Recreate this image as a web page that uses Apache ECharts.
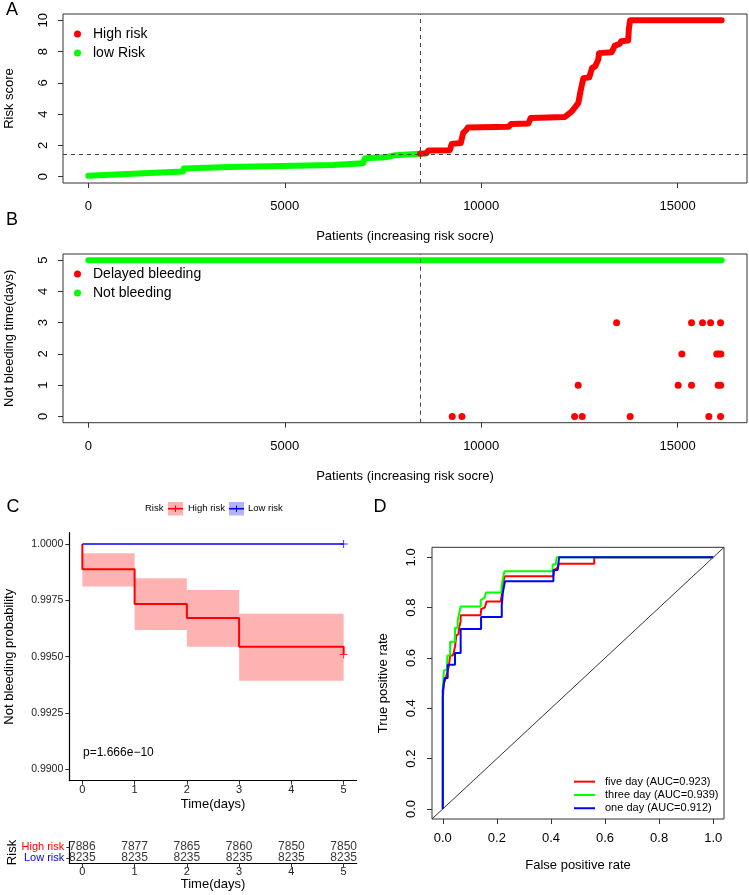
<!DOCTYPE html>
<html>
<head>
<meta charset="utf-8">
<script src="https://cdn.jsdelivr.net/npm/echarts@6/dist/echarts.min.js"></script>
<style>
  html, body { margin: 0; padding: 0; background: #fff; }
  #page { position: relative; width: 749px; height: 895px; }
  .panel { position: absolute; left: 0; top: 0; width: 749px; height: 895px; }
</style>
</head>
<body>
<div id="page">
  <div class="panel" id="panelA"></div>
  <div class="panel" id="panelB"></div>
  <div class="panel" id="panelC"></div>
  <div class="panel" id="panelD"></div>
</div>
<script>
// ---- panel A: risk score by patient rank (step vertices)
const lowRiskIdx = [0, 2410, 2430, 3600, 3640, 6230, 6270, 6990, 7040, 7550, 7600, 7820, 7860, 8440];
const lowRiskScore = [0.06, 0.34, 0.53, 0.62, 0.72, 0.75, 0.83, 0.86, 1.18, 1.24, 1.34, 1.38, 1.45, 1.47];
const highRiskIdx = [8440, 8600, 8660, 9200, 9250, 9480, 9540, 9620, 9660, 10700, 10760, 11200, 11260, 12130,
  12300, 12470, 12530, 12600, 12750, 12820, 12900, 12980, 13000, 13320, 13400, 13530, 13560, 13740, 13760, 13790, 16121];
const highRiskScore = [1.47, 1.5, 1.68, 1.7, 2.1, 2.15, 2.8, 3.0, 3.15, 3.2, 3.37, 3.4, 3.75, 3.82,
  4.16, 4.7, 5.5, 6.3, 6.35, 6.95, 7.05, 7.5, 7.9, 7.95, 8.38, 8.5, 8.66, 8.7, 9.5, 10, 10];
const riskCutIdx = 8440;
const riskCutScore = 1.46;
const patientTicks = [0, 5000, 10000, 15000];
const scoreTicks = [0, 2, 4, 6, 8, 10];

// ---- panel B: bleeding status
const notBleedIdx = [0, 16121];
const notBleedDays = [5, 5];
const bleedIdx = [13445, 15353, 15633, 15837, 16092, 15107, 15995, 16040, 16100,
  12468, 15013, 15353, 16030, 16095, 9262, 9509, 12377, 12570, 13791, 15794, 16092];
const bleedDays = [3, 3, 3, 3, 3, 2, 2, 2, 2, 1, 1, 1, 1, 1, 0, 0, 0, 0, 0, 0, 0];
const dayTicks = [0, 1, 2, 3, 4, 5];

// ---- panel C: Kaplan-Meier
const kmHighTimes = [0, 0, 1, 2, 3, 5];
const kmHigh = [1, 0.99888, 0.99734, 0.99672, 0.99544, 0.9951];
const kmLowTimes = [0, 5];
const kmLow = [1, 1];
const ciStart = [0, 1, 2, 3];
const ciEnd = [1, 2, 3, 5];
const ciLower = [0.99811, 0.99618, 0.99544, 0.99393];
const ciUpper = [0.99959, 0.99848, 0.99796, 0.99691];
const survTicks = [0.99, 0.9925, 0.995, 0.9975, 1];
const riskGroups = ['Low risk', 'High risk'];
const atRiskHigh = [7886, 7877, 7865, 7860, 7850, 7850];
const atRiskLow = [8235, 8235, 8235, 8235, 8235, 8235];
const pValueText = 'p=1.666e\u221210';

// ---- panel D: ROC
const rocFiveFpr = [0, 0, 0.004, 0.004, 0.011, 0.011, 0.018, 0.022, 0.027, 0.027, 0.037, 0.04, 0.045, 0.05, 0.058, 0.06, 0.066, 0.066,
  0.14, 0.142, 0.155, 0.162, 0.214, 0.218, 0.222, 0.23, 0.409, 0.412, 0.425, 0.43, 0.56, 0.56, 1];
const rocFiveTpr = [0, 0.44, 0.44, 0.5, 0.5, 0.52, 0.52, 0.565, 0.565, 0.61, 0.61, 0.62, 0.645, 0.69, 0.695, 0.72, 0.745, 0.77,
  0.77, 0.795, 0.8, 0.825, 0.825, 0.85, 0.9, 0.925, 0.925, 0.95, 0.96, 0.975, 0.975, 1, 1];
const rocThreeFpr = [0, 0, 0.004, 0.015, 0.017, 0.027, 0.027, 0.045, 0.045, 0.055, 0.055, 0.062, 0.066, 0.14, 0.14, 0.155, 0.16,
  0.216, 0.218, 0.222, 0.228, 0.406, 0.406, 0.418, 0.421, 1];
const rocThreeTpr = [0, 0.48, 0.55, 0.555, 0.61, 0.61, 0.665, 0.665, 0.72, 0.72, 0.75, 0.75, 0.805, 0.805, 0.83, 0.84, 0.86,
  0.86, 0.89, 0.915, 0.945, 0.945, 0.972, 0.972, 1, 1];
const rocOneFpr = [0, 0, 0.007, 0.018, 0.018, 0.045, 0.045, 0.066, 0.066, 0.1415, 0.1415, 0.218, 0.218, 0.222, 0.23, 0.409, 0.409, 0.425, 0.43, 1];
const rocOneTpr = [0, 0.47, 0.52, 0.52, 0.573, 0.573, 0.62, 0.62, 0.715, 0.715, 0.763, 0.763, 0.81, 0.86, 0.905, 0.905, 0.95, 0.95, 1, 1];
const rocNames = ['five day (AUC=0.923)', 'three day (AUC=0.939)', 'one day (AUC=0.912)'];
const diagLine = [-0.04, 1.04];
const rateTicks = [0, 0.2, 0.4, 0.6, 0.8, 1];

const FONT = '"Liberation Sans", Arial, sans-serif';
const zip = (xs, ys) => xs.map((x, i) => [x, ys[i]]);
const plain = v => String(v);

// R base-graphics style axis (box drawn by grid border)
function baseAxis(min, max, ticks, extra) {
  return Object.assign({
    type: 'value', min: min, max: max,
    axisLine: { show: false, onZero: false },
    axisTick: { show: true, length: 5, customValues: ticks, lineStyle: { color: '#333' } },
    splitLine: { show: false },
    nameLocation: 'middle',
    nameMoveOverlap: false,
    nameTextStyle: { fontSize: 13, color: '#000', fontFamily: FONT },
  }, extra);
}
// ggplot classic style axis
function ggAxis(gridIndex, extra) {
  return Object.assign({
    gridIndex: gridIndex,
    axisLine: { show: true, onZero: false, lineStyle: { color: '#000', width: 1.2 } },
    axisTick: { show: true, length: 4, lineStyle: { color: '#333' } },
    splitLine: { show: false },
    nameLocation: 'middle',
    nameMoveOverlap: false,
    nameTextStyle: { fontSize: 13, color: '#000', fontFamily: FONT },
  }, extra);
}
const boxGrid = { show: true, borderColor: '#333', borderWidth: 1, backgroundColor: 'transparent', outerBoundsMode: 'none' };
const dashed = { type: [4, 4], color: '#444', width: 1 };
const dotLegend = { orient: 'vertical', icon: 'circle', selectedMode: false, padding: 0,
  itemWidth: 7, itemHeight: 7, itemGap: 5, textStyle: { fontSize: 14, lineHeight: 14, color: '#000', padding: [0, 0, 0, 7] } };
function letter(t, x, y) {
  return { type: 'text', x: x, y: y, style: { text: t, fontSize: 18, fontFamily: FONT, fill: '#000',
    textAlign: 'center', textVerticalAlign: 'middle', align: 'center', verticalAlign: 'middle' } };
}
function smallText(t, x, y, size) {
  return { type: 'text', x: x, y: y, style: { text: t, fontSize: size, fontFamily: FONT, fill: '#000',
    textVerticalAlign: 'middle', verticalAlign: 'middle' } };
}
function makeChart(id, option) {
  const chart = echarts.init(document.getElementById(id), null, { width: 749, height: 895 });
  chart.setOption(Object.assign({ animation: false, textStyle: { fontFamily: FONT } }, option));
  return chart;
}

// ---- A
makeChart('panelA', {
  grid: Object.assign({ left: 63, top: 14, width: 684, height: 169 }, boxGrid),
  xAxis: baseAxis(-645, 16765, patientTicks, { name: 'Patients (increasing risk socre)', nameGap: 47,
    axisLabel: { customValues: patientTicks, margin: 17, fontSize: 13, color: '#000', formatter: plain } }),
  yAxis: baseAxis(-0.4, 10.4, scoreTicks, { name: 'Risk score', nameGap: 47, nameRotate: 90,
    axisLabel: { customValues: scoreTicks, rotate: 90, margin: 13, fontSize: 13, color: '#000', formatter: plain } }),
  legend: Object.assign({ data: ['High risk', 'low Risk'], left: 74, top: 27 }, dotLegend),
  series: [
    { name: 'low Risk', type: 'line', data: zip(lowRiskIdx, lowRiskScore), showSymbol: false,
      itemStyle: { color: '#00FF00' }, lineStyle: { color: '#00FF00', width: 6, cap: 'round', join: 'round' },
      markLine: { silent: true, symbol: ['none', 'none'], label: { show: false }, lineStyle: dashed,
        data: [{ xAxis: riskCutIdx }, { yAxis: riskCutScore }] } },
    { name: 'High risk', type: 'line', data: zip(highRiskIdx, highRiskScore), showSymbol: false,
      itemStyle: { color: '#FF0000' }, lineStyle: { color: '#FF0000', width: 6, cap: 'round', join: 'round' } },
  ],
  graphic: [letter('A', 12, 10)],
});

// ---- B
makeChart('panelB', {
  grid: Object.assign({ left: 63, top: 254, width: 684, height: 168.7 }, boxGrid),
  xAxis: baseAxis(-645, 16765, patientTicks, { name: 'Patients (increasing risk socre)', nameGap: 47,
    axisLabel: { customValues: patientTicks, margin: 17, fontSize: 13, color: '#000', formatter: plain } }),
  yAxis: baseAxis(-0.2, 5.2, dayTicks, { name: 'Not bleeding time(days)', nameGap: 47, nameRotate: 90,
    axisLabel: { customValues: dayTicks, rotate: 90, margin: 13, fontSize: 13, color: '#000', formatter: plain } }),
  legend: Object.assign({ data: ['Delayed bleeding', 'Not bleeding'], left: 74, top: 267 }, dotLegend),
  series: [
    { name: 'Not bleeding', type: 'line', data: zip(notBleedIdx, notBleedDays), showSymbol: false,
      itemStyle: { color: '#00FF00' }, lineStyle: { color: '#00FF00', width: 6, cap: 'round' },
      markLine: { silent: true, symbol: ['none', 'none'], label: { show: false }, lineStyle: dashed,
        data: [{ xAxis: riskCutIdx }] } },
    { name: 'Delayed bleeding', type: 'scatter', data: zip(bleedIdx, bleedDays),
      symbolSize: 7, itemStyle: { color: '#FF0000', opacity: 1 } },
  ],
  graphic: [letter('B', 12, 220)],
});

// ---- C (survival curve + number-at-risk table)
makeChart('panelC', {
  grid: [
    { left: 69.3, top: 532.7, width: 287.4, height: 248, outerBoundsMode: 'none' },
    { left: 69.3, top: 841.7, width: 287.4, height: 21.6, outerBoundsMode: 'none' },
  ],
  xAxis: [
    ggAxis(0, { type: 'value', min: -0.25, max: 5.25, name: 'Time(days)', nameGap: 17,
      axisTick: { show: true, length: 4, customValues: dayTicks, lineStyle: { color: '#333' } },
      axisLabel: { customValues: dayTicks, margin: 4, fontSize: 11, color: '#222' } }),
    ggAxis(1, { type: 'value', min: -0.25, max: 5.25, name: 'Time(days)', nameGap: 15,
      axisTick: { show: true, length: 4, customValues: dayTicks, lineStyle: { color: '#333' } },
      axisLabel: { customValues: dayTicks, margin: 3, fontSize: 11, color: '#222' } }),
  ],
  yAxis: [
    ggAxis(0, { type: 'value', min: 0.9895, max: 1.0005, name: 'Not bleeding probability', nameGap: 53, nameRotate: 90,
      axisTick: { show: true, length: 4, customValues: survTicks, lineStyle: { color: '#333' } },
      axisLabel: { customValues: survTicks, margin: 6, fontSize: 10.5, color: '#222', formatter: v => v.toFixed(4) } }),
    ggAxis(1, { type: 'category', data: riskGroups, name: 'Risk', nameGap: 50, nameRotate: 90,
      axisTick: { show: true, length: 3, alignWithLabel: true, lineStyle: { color: '#333' } },
      axisLabel: { interval: 0, hideOverlap: false, margin: 5, fontSize: 11,
        color: v => (v === 'High risk' ? '#FF0000' : '#0000FF') } }),
  ],
  series: [
    { name: 'ci', type: 'custom', xAxisIndex: 0, yAxisIndex: 0,
      data: ciStart.map((s, i) => [s, ciEnd[i], ciLower[i], ciUpper[i]]),
      encode: { x: [0, 1], y: [2, 3] },
      renderItem: function (params, api) {
        const p1 = api.coord([api.value(0), api.value(3)]);
        const p2 = api.coord([api.value(1), api.value(2)]);
        return { type: 'rect', shape: { x: p1[0], y: p1[1], width: p2[0] - p1[0], height: p2[1] - p1[1] },
          style: { fill: 'rgba(255,0,0,0.3)' } };
      } },
    { name: 'km high', type: 'line', step: 'end', xAxisIndex: 0, yAxisIndex: 0, data: zip(kmHighTimes, kmHigh),
      showSymbol: false, lineStyle: { color: '#FF0000', width: 2 }, itemStyle: { color: '#FF0000' } },
    { name: 'km low', type: 'line', xAxisIndex: 0, yAxisIndex: 0, data: zip(kmLowTimes, kmLow),
      showSymbol: false, lineStyle: { color: '#0000FF', width: 1.6 }, itemStyle: { color: '#0000FF' } },
    { name: 'censor', type: 'scatter', xAxisIndex: 0, yAxisIndex: 0,
      data: [
        { value: [kmHighTimes[kmHighTimes.length - 1], kmHigh[kmHigh.length - 1]], itemStyle: { color: '#FF0000' } },
        { value: [kmLowTimes[kmLowTimes.length - 1], kmLow[kmLow.length - 1]], itemStyle: { color: '#0000FF' } },
      ],
      symbol: 'path://M-1,-0.12L1,-0.12L1,0.12L-1,0.12Z M-0.12,-1L0.12,-1L0.12,1L-0.12,1Z', symbolSize: 8 },
    { name: 'at risk', type: 'scatter', xAxisIndex: 1, yAxisIndex: 1, symbolSize: 1,
      itemStyle: { color: 'rgba(0,0,0,0)' },
      data: atRiskHigh.map((n, i) => [dayTicks[i], 'High risk', n]).concat(atRiskLow.map((n, i) => [dayTicks[i], 'Low risk', n])),
      label: { show: true, position: 'inside', formatter: p => p.value[2], fontSize: 12, color: '#000' } },
  ],
  graphic: [
    letter('C', 13, 507),
    smallText(pValueText, 83, 753, 12),
    // KM legend keys
    smallText('Risk', 145, 508.5, 9.5),
    { type: 'rect', shape: { x: 168, y: 502, width: 15, height: 13.5 }, style: { fill: 'rgba(255,0,0,0.3)' } },
    { type: 'line', shape: { x1: 168, y1: 508.7, x2: 183, y2: 508.7 }, style: { stroke: '#FF0000', lineWidth: 1.6 } },
    { type: 'line', shape: { x1: 175.5, y1: 505.5, x2: 175.5, y2: 512 }, style: { stroke: '#FF0000', lineWidth: 1 } },
    smallText('High risk', 188, 508.5, 9.5),
    { type: 'rect', shape: { x: 229, y: 502, width: 15, height: 13.5 }, style: { fill: 'rgba(0,0,255,0.3)' } },
    { type: 'line', shape: { x1: 229, y1: 508.7, x2: 244, y2: 508.7 }, style: { stroke: '#0000FF', lineWidth: 1.6 } },
    { type: 'line', shape: { x1: 236.5, y1: 505.5, x2: 236.5, y2: 512 }, style: { stroke: '#0000FF', lineWidth: 1 } },
    smallText('Low risk', 248, 508.5, 9.5),
  ],
});

// ---- D (ROC)
makeChart('panelD', {
  grid: Object.assign({ left: 432, top: 547.3, width: 292, height: 271.7 }, boxGrid),
  xAxis: baseAxis(-0.04, 1.04, rateTicks, { name: 'False positive rate', nameGap: 40,
    axisLabel: { customValues: rateTicks, margin: 13, fontSize: 13, color: '#000', formatter: v => v.toFixed(1) } }),
  yAxis: baseAxis(-0.04, 1.04, rateTicks, { name: 'True positive rate', nameGap: 42, nameRotate: 90,
    axisLabel: { customValues: rateTicks, rotate: 90, margin: 14, fontSize: 13, color: '#000', formatter: v => v.toFixed(1) } }),
  legend: { data: rocNames, left: 574, top: 775, orient: 'vertical', icon: 'rect', selectedMode: false, padding: 0,
    itemWidth: 21, itemHeight: 2, itemGap: 0, textStyle: { fontSize: 11, lineHeight: 13.3, color: '#000', padding: [0, 0, 0, 5] } },
  series: [
    { name: 'diag', type: 'line', data: zip(diagLine, diagLine), showSymbol: false, lineStyle: { color: '#333', width: 1 } },
    { name: rocNames[0], type: 'line', data: zip(rocFiveFpr, rocFiveTpr), showSymbol: false,
      itemStyle: { color: '#FF0000' }, lineStyle: { color: '#FF0000', width: 2 } },
    { name: rocNames[1], type: 'line', data: zip(rocThreeFpr, rocThreeTpr), showSymbol: false,
      itemStyle: { color: '#00FF00' }, lineStyle: { color: '#00FF00', width: 2 } },
    { name: rocNames[2], type: 'line', data: zip(rocOneFpr, rocOneTpr), showSymbol: false,
      itemStyle: { color: '#0000FF' }, lineStyle: { color: '#0000FF', width: 2 } },
  ],
  graphic: [letter('D', 380, 507)],
});
</script>
</body>
</html>
